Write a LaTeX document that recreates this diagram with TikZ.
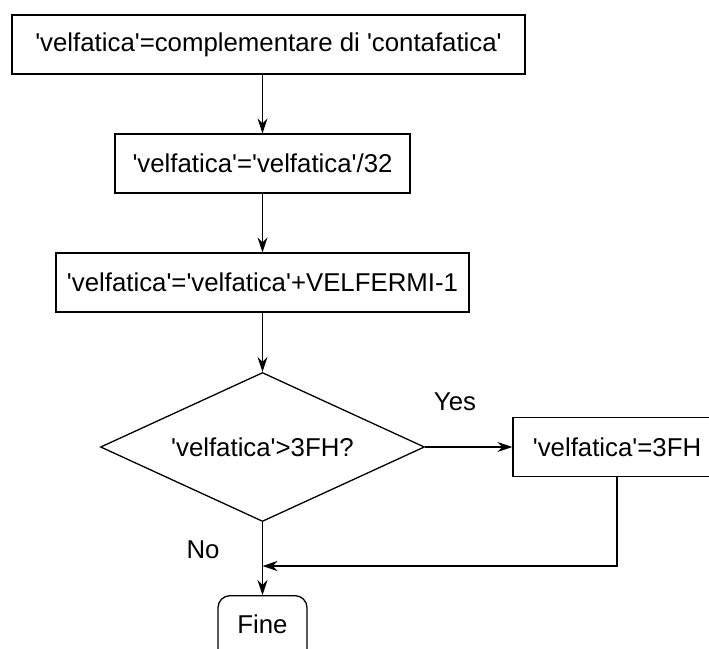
\documentclass[tikz,border=0pt]{standalone}
\usepackage{fontspec}
\setmainfont{Liberation Sans}[Ligatures=TeXOff]
\usetikzlibrary{arrows.meta,shapes.geometric}
\begin{document}
\begin{tikzpicture}[x=1pt,y=-1pt,
  every node/.style={font=\fontsize{25.8pt}{30pt}\selectfont, inner sep=0pt},
  stepbox/.style={draw, line width=1.3pt, minimum height=59pt},
  decision/.style={draw, diamond, line width=1.3pt, aspect=2.174,
    minimum width=324pt, minimum height=149pt},
  endbox/.style={draw, rounded corners=12pt, line width=1.3pt,
    minimum width=89pt, minimum height=70pt},
  flow/.style={line width=1.3pt, -{Stealth[length=15pt,width=10pt,inset=5pt]}}]
  \useasboundingbox (0,0) rectangle (709,648);
  \clip (0,0) rectangle (709,648);

  % process steps
  \node[stepbox, minimum width=513pt] (b1) at (268.5,44.5)
    {'velfatica'=complementare di 'contafatica'};
  \node[stepbox, minimum width=295pt] (b2) at (262.5,163.5)
    {'velfatica'='velfatica'/32};
  \node[stepbox, minimum width=413pt] (b3) at (262.5,282.5)
    {'velfatica'='velfatica'+VELFERMI-1};
  \node[decision] (d) at (262.5,447) {'velfatica'>3FH?};
  \node[stepbox, minimum width=208pt] (b4) at (617,447) {'velfatica'=3FH};
  \node[endbox, anchor=north] (fine) at (262.5,595) {};
  \node (finetxt) at (262.5,624) {Fine};

  % branch labels
  \node (yes) at (455,402) {Yes};
  \node (no) at (203,550) {No};

  \coordinate (m) at (262.5,566);

  % connectors
  \draw[flow] (b1.south -| b2.north) -- (b2.north);
  \draw[flow] (b2.south) -- (b3.north);
  \draw[flow] (b3.south) -- (d.north);
  \draw[flow] (d.east) -- (b4.west);
  \draw[flow] (d.south) -- (fine.north);
  \draw[flow] (b4.south) |- (m);
\end{tikzpicture}
\end{document}
